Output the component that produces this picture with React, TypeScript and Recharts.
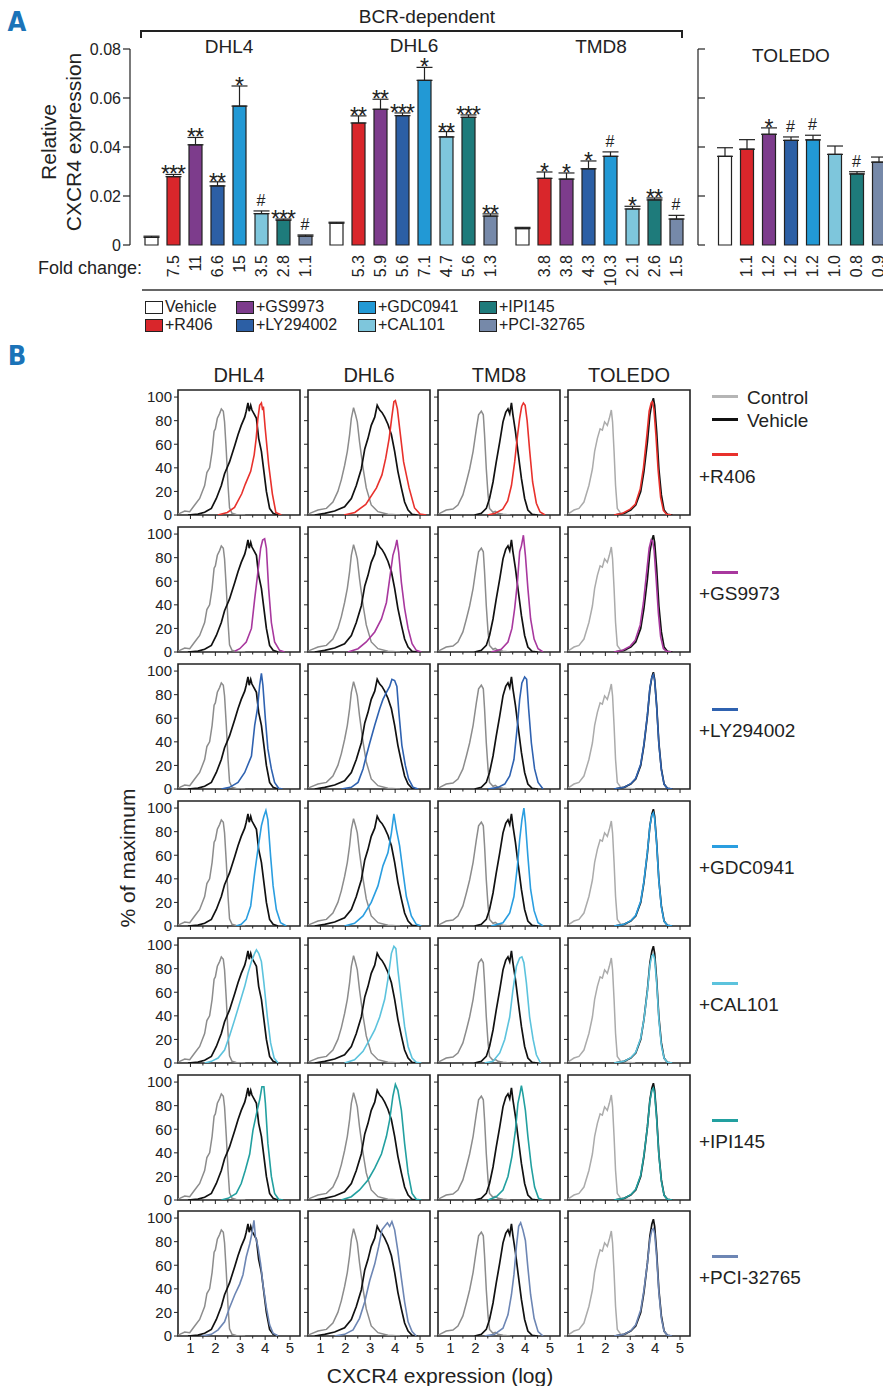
import React from "react";
import {
  ComposedChart,
  Bar,
  Line,
  XAxis,
  YAxis,
  Cell,
  ErrorBar,
  LabelList,
  LineChart,
  ReferenceArea,
} from "recharts";

// ---------- shared ----------
const treatments = ["Vehicle", "+R406", "+GS9973", "+LY294002", "+GDC0941", "+CAL101", "+IPI145", "+PCI-32765"];
const barColors = ["#ffffff", "#d9262b", "#7d3c8c", "#2c5fa5", "#2299d5", "#7ec6dc", "#1e7b7b", "#7689a9"];
const lineColors = ["#111111", "#e8312c", "#a8389e", "#2f62b0", "#2a9ee0", "#5cc3dd", "#22a0a0", "#6d86b4"];

// ---------- panel A: relative CXCR4 expression ----------
const dhl4Expr = [0.0031, 0.0279, 0.0409, 0.0241, 0.0567, 0.0128, 0.0101, 0.0036];
const dhl4Err = [0.0005, 0.0009, 0.003, 0.0017, 0.0082, 0.0011, 0.0005, 0.0005];
const dhl4Sig = ["", "***", "**", "**", "*", "#", "***", "#"];
const dhl4Fold = ["", "7.5", "11", "6.6", "15", "3.5", "2.8", "1.1"];

const dhl6Expr = [0.0089, 0.0498, 0.0554, 0.0528, 0.0672, 0.0441, 0.0521, 0.0118];
const dhl6Err = [0.0004, 0.0029, 0.0041, 0.0011, 0.0053, 0.0022, 0.001, 0.0009];
const dhl6Sig = ["", "**", "**", "***", "*", "**", "***", "**"];
const dhl6Fold = ["", "5.3", "5.9", "5.6", "7.1", "4.7", "5.6", "1.3"];

const tmd8Expr = [0.0067, 0.0272, 0.0269, 0.0311, 0.0362, 0.0147, 0.0184, 0.0106];
const tmd8Err = [0.0005, 0.0026, 0.0025, 0.0032, 0.0018, 0.0011, 0.0008, 0.0015];
const tmd8Sig = ["", "*", "*", "*", "#", "*", "**", "#"];
const tmd8Fold = ["", "3.8", "3.8", "4.3", "10.3", "2.1", "2.6", "1.5"];

const toledoExpr = [0.0362, 0.0391, 0.0452, 0.0427, 0.0429, 0.037, 0.029, 0.0338];
const toledoErr = [0.0035, 0.0039, 0.0026, 0.0014, 0.0019, 0.0034, 0.0009, 0.0021];
const toledoSig = ["", "", "*", "#", "#", "", "#", ""];
const toledoFold = ["", "1.1", "1.2", "1.2", "1.2", "1.0", "0.8", "0.9"];

const yTicksA = [0, 0.02, 0.04, 0.06, 0.08];

// ---------- panel B: CXCR4 histograms, [log expression, % of max] ----------
type Pt = [number, number];

const ctrlDHL4: Pt[] = [[0.5, 1], [0.57, 1.4], [0.77, 3.4], [0.97, 2.8], [1.17, 8.5], [1.37, 14], [1.57, 25], [1.66, 36], [1.77, 40], [1.87, 54], [1.95, 71], [2.0, 73], [2.08, 82], [2.17, 86], [2.24, 90], [2.32, 88], [2.37, 79], [2.44, 54], [2.51, 25], [2.57, 6], [2.67, 1.4], [2.84, 0.5], [3.2, 0]];
const ctrlDHL6: Pt[] = [[0.5, 1], [0.57, 1.4], [0.9, 4.2], [1.24, 5.6], [1.5, 11], [1.7, 20], [1.84, 30], [1.97, 42], [2.08, 54], [2.17, 68], [2.24, 82], [2.33, 91], [2.41, 85], [2.48, 79], [2.57, 62], [2.71, 40], [2.84, 23], [3.04, 8.5], [3.31, 2.8], [3.71, 0.6], [4.2, 0]];
const ctrlTMD8: Pt[] = [[0.5, 1], [0.57, 1.4], [0.83, 4.2], [1.1, 5.1], [1.3, 8.5], [1.5, 17], [1.64, 28], [1.77, 39], [1.91, 54], [2.04, 73], [2.13, 85], [2.24, 88], [2.32, 85], [2.37, 68], [2.44, 39], [2.51, 17], [2.57, 5.6], [2.71, 2.3], [2.8, 3], [2.91, 1.4], [3.11, 0.6], [3.4, 0]];
const ctrlTOLEDO: Pt[] = [[0.5, 1], [0.54, 1.4], [0.74, 4.2], [0.94, 5.6], [1.14, 11], [1.34, 25], [1.48, 39], [1.57, 54], [1.68, 65], [1.79, 73], [1.88, 72], [1.97, 79], [2.08, 76], [2.16, 82], [2.24, 89], [2.29, 79], [2.35, 54], [2.41, 25], [2.48, 5.6], [2.62, 1.4], [2.88, 0.6], [3.2, 0]];

const vehDHL4: Pt[] = [[0.9, 0], [1.3, 0.8], [1.57, 2.3], [1.84, 5.6], [2.04, 14], [2.24, 25], [2.37, 35], [2.57, 45], [2.78, 59], [2.91, 68], [3.04, 76], [3.18, 83], [3.24, 88], [3.31, 95], [3.36, 88], [3.42, 93], [3.47, 89], [3.55, 86], [3.65, 82], [3.74, 65], [3.85, 54], [3.95, 37], [4.05, 20], [4.18, 5.6], [4.32, 1.4], [4.52, 0]];
const vehDHL6: Pt[] = [[0.77, 0], [1.17, 1.4], [1.57, 3.4], [1.97, 7], [2.24, 14], [2.44, 25], [2.64, 39], [2.78, 56], [2.91, 65], [3.04, 76], [3.18, 83], [3.28, 93], [3.38, 89], [3.47, 87], [3.58, 83], [3.71, 77], [3.85, 68], [3.98, 54], [4.11, 37], [4.25, 23], [4.38, 11], [4.52, 4.2], [4.68, 0.6], [4.9, 0]];
const vehTMD8: Pt[] = [[1.97, 0], [2.24, 1.4], [2.44, 5.6], [2.57, 14], [2.71, 28], [2.84, 45], [2.98, 62], [3.11, 79], [3.22, 87], [3.31, 90], [3.38, 86], [3.45, 95], [3.51, 85], [3.61, 71], [3.71, 54], [3.85, 31], [3.98, 14], [4.11, 4.2], [4.28, 0.6], [4.5, 0]];
const vehTOLEDO: Pt[] = [[2.35, 0], [2.75, 1.4], [3.02, 4.2], [3.22, 8.5], [3.42, 20], [3.55, 37], [3.69, 62], [3.79, 85], [3.87, 95], [3.93, 99], [3.98, 93], [4.06, 71], [4.15, 39], [4.25, 17], [4.36, 4.2], [4.49, 0.6], [4.69, 0]];

const r406DHL4: Pt[] = [[2.1, 0], [2.48, 2.2], [2.77, 6.4], [3.06, 18], [3.2, 26], [3.42, 37], [3.56, 51], [3.64, 65], [3.71, 82], [3.78, 93], [3.85, 95], [3.9, 89], [3.93, 92], [4.0, 74], [4.14, 43], [4.29, 18], [4.43, 2.2], [4.65, 0]];
const r406DHL6: Pt[] = [[1.95, 0], [2.38, 2.2], [2.82, 9], [3.25, 23], [3.47, 34], [3.62, 48], [3.76, 65], [3.86, 82], [3.95, 96], [4.01, 97], [4.09, 90], [4.2, 70], [4.34, 45], [4.56, 23], [4.78, 6], [5.0, 0.8], [5.25, 0]];
const r406TMD8: Pt[] = [[2.5, 0], [2.8, 1.5], [3.1, 5], [3.3, 12], [3.45, 25], [3.58, 45], [3.68, 65], [3.78, 82], [3.86, 92], [3.93, 95], [4.0, 93], [4.08, 80], [4.18, 55], [4.3, 28], [4.45, 10], [4.6, 2.5], [4.8, 0]];
const r406TOLEDO: Pt[] = [[2.35, 0], [2.7, 1.5], [3.0, 5], [3.2, 9], [3.4, 22], [3.53, 40], [3.66, 66], [3.76, 88], [3.84, 95], [3.89, 96], [3.95, 90], [4.03, 68], [4.12, 38], [4.22, 15], [4.33, 4], [4.46, 0.6], [4.65, 0]];

const gsDHL4: Pt[] = [[2.78, 0.6], [2.98, 2.8], [3.24, 8.5], [3.45, 20], [3.58, 45], [3.71, 68], [3.82, 88], [3.9, 95], [3.98, 96], [4.05, 88], [4.14, 54], [4.25, 25], [4.38, 8.5], [4.58, 1.4], [4.78, 0]];
const gsDHL6: Pt[] = [[2.11, 0], [2.51, 2.8], [2.84, 8.5], [3.18, 17], [3.45, 28], [3.65, 42], [3.78, 62], [3.91, 82], [4.01, 89], [4.07, 95], [4.14, 85], [4.25, 59], [4.38, 37], [4.52, 20], [4.68, 7], [4.85, 1.4], [5.05, 0]];
const gsTMD8: Pt[] = [[2.64, 0], [3.04, 2.3], [3.31, 8.5], [3.47, 20], [3.58, 37], [3.69, 59], [3.78, 85], [3.85, 90], [3.93, 99], [4.01, 82], [4.11, 54], [4.22, 28], [4.36, 11], [4.52, 2.8], [4.72, 0]];
const gsTOLEDO: Pt[] = [[2.35, 0], [2.7, 1.5], [3.0, 5], [3.2, 10], [3.4, 23], [3.53, 42], [3.66, 68], [3.76, 88], [3.84, 95], [3.9, 94], [3.96, 86], [4.04, 62], [4.13, 33], [4.22, 13], [4.33, 3], [4.46, 0.5], [4.65, 0]];

const lyDHL4: Pt[] = [[2.24, 0], [2.57, 1.4], [2.91, 5.6], [3.18, 14], [3.45, 28], [3.58, 54], [3.69, 68], [3.78, 88], [3.85, 98], [3.91, 88], [4.01, 59], [4.11, 34], [4.25, 17], [4.38, 5.6], [4.54, 0.6], [4.7, 0]];
const lyDHL6: Pt[] = [[1.84, 0], [2.24, 1.4], [2.51, 5.6], [2.71, 17], [2.84, 28], [2.98, 39], [3.18, 54], [3.38, 68], [3.51, 76], [3.65, 82], [3.78, 87], [3.87, 93], [3.98, 92], [4.07, 87], [4.15, 65], [4.27, 37], [4.41, 20], [4.54, 8.5], [4.72, 1.4], [4.92, 0]];
const lyTMD8: Pt[] = [[2.51, 0], [2.91, 1.4], [3.18, 4.2], [3.38, 11], [3.55, 25], [3.69, 54], [3.78, 76], [3.87, 90], [3.98, 95], [4.06, 93], [4.14, 68], [4.25, 39], [4.38, 17], [4.52, 5.6], [4.72, 0]];
const lyTOLEDO: Pt[] = [[2.35, 0], [2.75, 1.4], [3.02, 4.5], [3.22, 9], [3.42, 21], [3.55, 38], [3.69, 63], [3.79, 86], [3.87, 95], [3.93, 97], [3.98, 92], [4.06, 70], [4.15, 38], [4.25, 16], [4.36, 4], [4.49, 0.6], [4.69, 0]];

const gdcDHL4: Pt[] = [[2.84, 0], [3.04, 1.4], [3.24, 5.6], [3.42, 17], [3.58, 45], [3.71, 65], [3.85, 85], [3.95, 93], [4.03, 98], [4.11, 90], [4.22, 59], [4.32, 34], [4.45, 14], [4.62, 2.8], [4.85, 0]];
const gdcDHL6: Pt[] = [[1.97, 0], [2.37, 2.3], [2.71, 8.5], [3.04, 20], [3.31, 34], [3.51, 51], [3.71, 62], [3.85, 79], [3.95, 95], [4.05, 82], [4.18, 68], [4.32, 45], [4.45, 25], [4.65, 8.5], [4.85, 1.4], [5.05, 0]];
const gdcTMD8: Pt[] = [[2.64, 0], [3.11, 2.8], [3.38, 11], [3.55, 25], [3.69, 51], [3.78, 73], [3.87, 90], [3.95, 100], [4.01, 88], [4.11, 59], [4.22, 31], [4.36, 13], [4.52, 2.8], [4.72, 0]];
const gdcTOLEDO: Pt[] = [[2.35, 0], [2.75, 1.4], [3.02, 4.5], [3.22, 9], [3.42, 21], [3.55, 38], [3.69, 63], [3.79, 85], [3.87, 94], [3.93, 96], [3.98, 91], [4.06, 70], [4.15, 38], [4.25, 16], [4.36, 4], [4.49, 0.6], [4.69, 0]];

const calDHL4: Pt[] = [[1.57, 0], [1.84, 1.4], [2.11, 4.2], [2.37, 11], [2.57, 23], [2.78, 37], [2.98, 51], [3.18, 65], [3.31, 76], [3.45, 86], [3.58, 93], [3.65, 96], [3.74, 93], [3.85, 86], [3.95, 68], [4.09, 39], [4.22, 17], [4.36, 4.2], [4.52, 0]];
const calDHL6: Pt[] = [[1.97, 0], [2.37, 2.8], [2.71, 9.9], [2.98, 20], [3.18, 28], [3.38, 39], [3.58, 54], [3.71, 71], [3.85, 93], [3.95, 99], [4.03, 97], [4.11, 79], [4.25, 54], [4.38, 31], [4.52, 14], [4.68, 4.2], [4.85, 0.6], [5.05, 0]];
const calTMD8: Pt[] = [[2.37, 0], [2.71, 1.4], [2.98, 8.5], [3.18, 20], [3.38, 39], [3.51, 62], [3.65, 82], [3.78, 89], [3.87, 90], [3.95, 85], [4.05, 68], [4.18, 39], [4.32, 20], [4.45, 7], [4.62, 0]];
const calTOLEDO: Pt[] = [[2.35, 0], [2.75, 1.4], [3.02, 4.5], [3.22, 9], [3.42, 21], [3.55, 37], [3.69, 61], [3.79, 83], [3.87, 91], [3.93, 92], [3.98, 88], [4.06, 68], [4.15, 37], [4.25, 15], [4.36, 4], [4.49, 0.6], [4.69, 0]];

const ipiDHL4: Pt[] = [[2.24, 0], [2.51, 1.4], [2.84, 5.6], [3.04, 14], [3.2, 25], [3.38, 39], [3.51, 59], [3.65, 73], [3.78, 85], [3.87, 96], [3.95, 96], [4.01, 82], [4.11, 48], [4.25, 20], [4.38, 5.6], [4.54, 0.6], [4.72, 0]];
const ipiDHL6: Pt[] = [[1.84, 0], [2.24, 2.8], [2.57, 8.5], [2.91, 17], [3.18, 27], [3.45, 39], [3.65, 54], [3.78, 68], [3.91, 88], [4.01, 98], [4.11, 93], [4.25, 76], [4.38, 48], [4.52, 23], [4.68, 5.6], [4.85, 0.6], [5.05, 0]];
const ipiTMD8: Pt[] = [[2.51, 0], [2.84, 2.8], [3.11, 8.5], [3.31, 20], [3.47, 37], [3.61, 59], [3.71, 82], [3.79, 90], [3.85, 97], [3.91, 90], [4.01, 76], [4.11, 54], [4.25, 28], [4.38, 11], [4.54, 1.4], [4.72, 0]];
const ipiTOLEDO: Pt[] = [[2.35, 0], [2.75, 1.4], [3.02, 4.5], [3.22, 9], [3.42, 21], [3.55, 38], [3.69, 62], [3.79, 84], [3.87, 93], [3.93, 95], [3.98, 90], [4.06, 69], [4.15, 38], [4.25, 16], [4.36, 4], [4.49, 0.6], [4.69, 0]];

const pciDHL4: Pt[] = [[1.44, 0], [1.84, 1.4], [2.11, 5.2], [2.37, 12], [2.57, 24], [2.78, 35], [2.98, 44], [3.11, 52], [3.24, 67], [3.38, 78], [3.47, 87], [3.55, 98], [3.61, 84], [3.71, 76], [3.82, 61], [3.91, 44], [4.05, 24], [4.18, 9.5], [4.32, 2.3], [4.52, 0]];
const pciDHL6: Pt[] = [[1.57, 0], [1.97, 1.4], [2.31, 5.2], [2.57, 15], [2.78, 29], [2.98, 47], [3.18, 61], [3.34, 76], [3.47, 90], [3.58, 93], [3.69, 96], [3.78, 93], [3.87, 97], [3.98, 90], [4.11, 72], [4.25, 49], [4.38, 29], [4.52, 12], [4.68, 3.7], [4.85, 0]];
const pciTMD8: Pt[] = [[2.37, 0], [2.77, 1.4], [3.11, 6.6], [3.31, 18], [3.45, 35], [3.55, 52], [3.65, 76], [3.74, 93], [3.82, 96], [3.91, 90], [4.01, 81], [4.11, 58], [4.22, 35], [4.36, 15], [4.52, 3.7], [4.72, 0]];
const pciTOLEDO: Pt[] = [[2.35, 0], [2.75, 1.4], [3.02, 4.5], [3.22, 9.5], [3.42, 22], [3.55, 39], [3.69, 62], [3.79, 82], [3.87, 90], [3.93, 91], [3.98, 87], [4.06, 67], [4.15, 37], [4.25, 15], [4.36, 4], [4.49, 0.6], [4.69, 0]];

const cellLines = ["DHL4", "DHL6", "TMD8", "TOLEDO"];
const controlCurves = [ctrlDHL4, ctrlDHL6, ctrlTMD8, ctrlTOLEDO];
const vehicleCurves = [vehDHL4, vehDHL6, vehTMD8, vehTOLEDO];
const drugCurves = [
  [r406DHL4, r406DHL6, r406TMD8, r406TOLEDO],
  [gsDHL4, gsDHL6, gsTMD8, gsTOLEDO],
  [lyDHL4, lyDHL6, lyTMD8, lyTOLEDO],
  [gdcDHL4, gdcDHL6, gdcTMD8, gdcTOLEDO],
  [calDHL4, calDHL6, calTMD8, calTOLEDO],
  [ipiDHL4, ipiDHL6, ipiTMD8, ipiTOLEDO],
  [pciDHL4, pciDHL6, pciTMD8, pciTOLEDO],
];
// major ticks labelled 1..5, minor ticks at the half units
const histXTicks = [1, 1.5, 2, 2.5, 3, 3.5, 4, 4.5, 5];
const histYTicks = [0, 20, 40, 60, 80, 100];

// layout
const FONT = "'Liberation Sans', Arial, Helvetica, sans-serif";
const INK = "#222";
const colLeft = [178, 308, 438, 568];
const rowTop = [390, 527, 664, 801, 938, 1075, 1211];

function Txt({ x, y, size = 16, anchor = "middle", rotate = false, weight = 400, color = INK, family = FONT, children }: any) {
  const tx = anchor === "middle" ? "-50%" : anchor === "end" ? "-100%" : "0";
  return (
    <div
      style={{
        position: "absolute",
        left: x,
        top: y,
        transform: `translate(${tx}, -50%)${rotate ? " rotate(-90deg)" : ""}`,
        whiteSpace: "nowrap",
        fontSize: size,
        lineHeight: 1,
        fontWeight: weight,
        color,
        fontFamily: family,
      }}
    >
      {children}
    </div>
  );
}

const SigLabel = (props: any) => {
  const x = props.x ?? props.viewBox?.x;
  const y = props.y ?? props.viewBox?.y;
  const value = props.value;
  if (!value) return null;
  const star = String(value).startsWith("*");
  return (
    <text
      x={x}
      y={y + (star ? 8 : -5)}
      textAnchor="middle"
      fontSize={star ? 23 : 16}
      letterSpacing={star ? -1 : 0}
      fill={INK}
      fontFamily={FONT}
    >
      {value}
    </text>
  );
};

const FoldTick = (props: any) => {
  const { x, y, payload, fold } = props;
  const i = treatments.indexOf(payload.value);
  const label = fold[i];
  if (!label) return null;
  return (
    <text
      x={x}
      y={y + 2}
      transform={`rotate(-90, ${x}, ${y + 2})`}
      textAnchor="end"
      dominantBaseline="central"
      fontSize={16}
      fill={INK}
      fontFamily={FONT}
    >
      {label}
    </text>
  );
};

// tick marks drawn inward from the TOLEDO axis
const InnerTick = (props: any) => {
  const { x, y } = props;
  return <line x1={x} x2={x + 7} y1={y} y2={y} stroke={INK} strokeWidth={1.2} />;
};

function BarGroup({ left, width, pad, axis, expr, err, sig, fold }: any) {
  const data = treatments.map((name, i) => ({
    name,
    value: expr[i],
    err: [0, err[i]],
    top: expr[i] + err[i],
    sig: sig[i],
  }));
  return (
    <div style={{ position: "absolute", left, top: 0 }}>
      <ComposedChart width={width} height={290} data={data} margin={{ top: 49, right: 0, bottom: 0, left: 0 }} barSize={13}>
        <XAxis
          dataKey="name"
          axisLine={false}
          tickLine={false}
          height={45}
          interval={0}
          padding={{ left: pad, right: 0 }}
          tick={(p: any) => <FoldTick {...p} fold={fold} />}
        />
        {axis === "main" ? (
          <YAxis
            domain={[0, 0.08]}
            ticks={yTicksA}
            width={60}
            tickSize={7}
            tickFormatter={(v: number) => (v === 0 ? "0" : v.toFixed(2))}
            axisLine={{ stroke: INK, strokeWidth: 1.2 }}
            tickLine={{ stroke: INK, strokeWidth: 1.2 }}
            tick={{ fontSize: 16, fill: INK, fontFamily: FONT }}
          />
        ) : axis === "inner" ? (
          <YAxis
            domain={[0, 0.08]}
            ticks={yTicksA}
            width={1}
            tickSize={0}
            tickMargin={0}
            tickLine={false}
            axisLine={{ stroke: INK, strokeWidth: 1.2 }}
            tick={InnerTick}
          />
        ) : (
          <YAxis hide domain={[0, 0.08]} />
        )}
        <Bar dataKey="value" isAnimationActive={false} stroke={INK} strokeWidth={1.2}>
          {data.map((d, i) => (
            <Cell key={d.name} fill={barColors[i]} />
          ))}
          <ErrorBar dataKey="err" width={8} stroke={INK} strokeWidth={1.2} direction="y" />
        </Bar>
        <Line dataKey="top" stroke="none" dot={false} activeDot={false} isAnimationActive={false} legendType="none">
          <LabelList dataKey="sig" content={SigLabel} />
        </Line>
      </ComposedChart>
    </div>
  );
}

const toXY = (pts: Pt[]) => pts.map(([x, y]) => ({ x, y }));

const HistXTick = (props: any) => {
  const { x, y, payload, showLabel } = props;
  const major = Number.isInteger(payload.value);
  return (
    <g>
      <line x1={x} x2={x} y1={y} y2={y + (major ? 4 : 2.5)} stroke={INK} strokeWidth={1} />
      {showLabel && major ? (
        <text x={x} y={y + 6} dy="0.71em" textAnchor="middle" fontSize={15} fill={INK} fontFamily={FONT}>
          {payload.value}
        </text>
      ) : null}
    </g>
  );
};

const HistYTick = (props: any) => {
  const { x, y, payload, showLabel } = props;
  return (
    <g>
      <line x1={x - 4} x2={x} y1={y} y2={y} stroke={INK} strokeWidth={1} />
      {showLabel ? (
        <text x={x - 6} y={y} dy="0.355em" textAnchor="end" fontSize={15} fill={INK} fontFamily={FONT}>
          {payload.value}
        </text>
      ) : null}
    </g>
  );
};

function HistPanel({ col, row }: { col: number; row: number }) {
  const left = colLeft[col];
  const top = rowTop[row];
  const showY = col === 0;
  const showX = row === rowTop.length - 1;
  const ctrlColor = col === 3 ? "#ababab" : "#8c8c8c";
  return (
    <div style={{ position: "absolute", left: left - 40, top: top - 1 }}>
      <LineChart width={163} height={150} margin={{ top: 1, right: 1, bottom: 0, left: 0 }}>
        <XAxis
          type="number"
          dataKey="x"
          domain={[0.5, 5.4]}
          ticks={histXTicks}
          interval={0}
          allowDataOverflow
          height={24}
          tickSize={0}
          tickMargin={0}
          axisLine={false}
          tickLine={false}
          tick={(p: any) => <HistXTick {...p} showLabel={showX} />}
        />
        <YAxis
          type="number"
          domain={[0, 106]}
          ticks={histYTicks}
          interval={0}
          allowDataOverflow
          width={40}
          tickSize={0}
          tickMargin={0}
          axisLine={false}
          tickLine={false}
          tick={(p: any) => <HistYTick {...p} showLabel={showY} />}
        />
        <Line data={toXY(controlCurves[col])} dataKey="y" type="linear" stroke={ctrlColor} strokeWidth={1.5} dot={false} isAnimationActive={false} />
        <Line data={toXY(vehicleCurves[col])} dataKey="y" type="linear" stroke={lineColors[0]} strokeWidth={1.7} dot={false} isAnimationActive={false} />
        <Line data={toXY(drugCurves[row][col])} dataKey="y" type="linear" stroke={lineColors[row + 1]} strokeWidth={1.6} dot={false} isAnimationActive={false} />
        <ReferenceArea x1={0.5} x2={5.4} y1={0} y2={106} fill="none" stroke={INK} strokeWidth={1.6} />
      </LineChart>
    </div>
  );
}

function Swatch({ x, y, i }: { x: number; y: number; i: number }) {
  return (
    <>
      <div
        style={{
          position: "absolute",
          left: x,
          top: y - 6,
          width: 16,
          height: 11,
          background: barColors[i],
          border: `1px solid ${INK}`,
        }}
      />
      <Txt x={x + 20} y={y} size={16} anchor="start">
        {treatments[i]}
      </Txt>
    </>
  );
}

export default function App() {
  const groups = [
    { left: 70, width: 246, pad: 10, axis: "main", expr: dhl4Expr, err: dhl4Err, sig: dhl4Sig, fold: dhl4Fold },
    { left: 324.5, width: 176, pad: 0, axis: "none", expr: dhl6Expr, err: dhl6Err, sig: dhl6Sig, fold: dhl6Fold },
    { left: 510.5, width: 176, pad: 0, axis: "none", expr: tmd8Expr, err: tmd8Err, sig: tmd8Sig, fold: tmd8Fold },
    { left: 697, width: 192.5, pad: 15.5, axis: "inner", expr: toledoExpr, err: toledoErr, sig: toledoSig, fold: toledoFold },
  ];
  const legendCols = [145, 236, 358, 479];
  const panelFont = "'DejaVu Sans Condensed', 'Liberation Sans Narrow', 'Roboto Condensed', sans-serif";

  return (
    <div
      style={{
        position: "absolute",
        left: 0,
        top: 0,
        width: 883,
        height: 1386,
        overflow: "hidden",
        background: "#fff",
        fontFamily: FONT,
        color: INK,
      }}
    >
      {/* ---------- Panel A ---------- */}
      <Txt x={17} y={21} size={27} weight={700} color="#1b73b8" family={panelFont}>
        A
      </Txt>
      <Txt x={427} y={16} size={19}>
        BCR-dependent
      </Txt>
      <div
        style={{
          position: "absolute",
          left: 140,
          top: 30,
          width: 543,
          height: 8,
          borderTop: `2px solid ${INK}`,
          borderLeft: `2px solid ${INK}`,
          borderRight: `2px solid ${INK}`,
          boxSizing: "border-box",
        }}
      />
      <Txt x={229} y={46} size={19}>DHL4</Txt>
      <Txt x={414} y={45} size={19}>DHL6</Txt>
      <Txt x={601} y={46} size={19}>TMD8</Txt>
      <Txt x={791} y={55} size={19}>TOLEDO</Txt>
      <Txt x={48} y={142} size={21} rotate>Relative</Txt>
      <Txt x={73} y={142} size={21} rotate>CXCR4 expression</Txt>

      {groups.map((g, i) => (
        <BarGroup key={i} {...g} />
      ))}

      <Txt x={38} y={268} size={18} anchor="start">Fold change:</Txt>
      <div style={{ position: "absolute", left: 142, top: 289, width: 741, height: 2, background: "#666" }} />

      {[0, 2, 4, 6].map((t, c) => (
        <Swatch key={`l1-${t}`} x={legendCols[c]} y={307} i={t} />
      ))}
      {[1, 3, 5, 7].map((t, c) => (
        <Swatch key={`l2-${t}`} x={legendCols[c]} y={325} i={t} />
      ))}

      {/* ---------- Panel B ---------- */}
      <Txt x={17} y={355} size={27} weight={700} color="#1b73b8" family={panelFont}>
        B
      </Txt>
      {cellLines.map((name, c) => (
        <Txt key={name} x={colLeft[c] + 61} y={375} size={20}>
          {name}
        </Txt>
      ))}
      {drugCurves.map((_, r) =>
        cellLines.map((__, c) => <HistPanel key={`${r}-${c}`} col={c} row={r} />)
      )}
      <Txt x={127} y={858} size={21} rotate>% of maximum</Txt>
      <Txt x={440} y={1375} size={21}>CXCR4 expression (log)</Txt>

      {/* right-hand legend */}
      <div style={{ position: "absolute", left: 712, top: 395, width: 26, height: 3, background: "#b5b5b5" }} />
      <Txt x={747} y={397} size={19} anchor="start">Control</Txt>
      <div style={{ position: "absolute", left: 712, top: 418, width: 26, height: 3, background: "#111" }} />
      <Txt x={747} y={420} size={19} anchor="start">Vehicle</Txt>
      {rowTop.map((top, r) => {
        const lineY = r === 0 ? top + 64 : top + 45;
        const textY = r === 0 ? top + 86 : top + 66;
        return (
          <React.Fragment key={r}>
            <div style={{ position: "absolute", left: 712, top: lineY - 1.5, width: 26, height: 3, background: lineColors[r + 1] }} />
            <Txt x={699} y={textY} size={19} anchor="start">
              {treatments[r + 1]}
            </Txt>
          </React.Fragment>
        );
      })}
    </div>
  );
}
